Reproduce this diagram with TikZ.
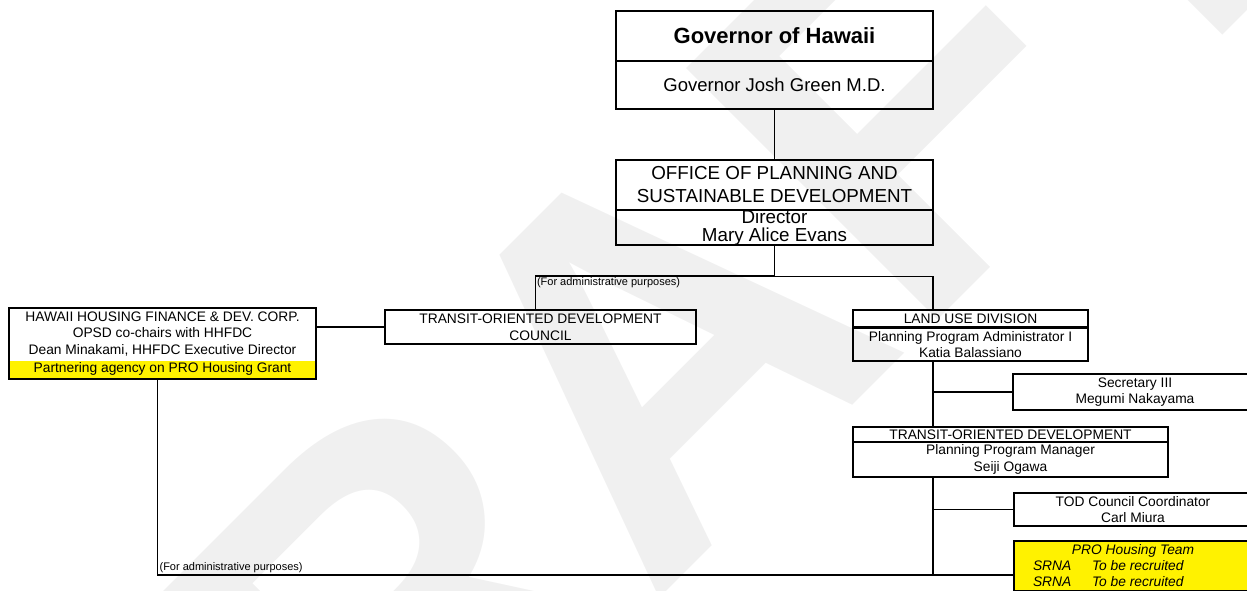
\documentclass[tikz,border=0pt]{standalone}
\usepackage{fontspec}
\setmainfont{Liberation Sans}
\usetikzlibrary{positioning,fit}
\tikzset{
  watermark/.style={text=gray!12, inner sep=0pt, font=\fontsize{517}{517}\selectfont\bfseries},
  orgcell/.style={draw, line width=1.8pt, inner sep=0pt, align=center, font=\fontsize{13.8}{16.7}\selectfont},
  bigcell/.style={orgcell, minimum width=317, font=\fontsize{18.8}{23}\selectfont},
  plaincell/.style={orgcell, draw=none},
  orgline/.style={line width=1.8pt},
  thinline/.style={line width=1pt},
  adminnote/.style={inner sep=1.5pt, font=\fontsize{11}{13}\selectfont}
}

\begin{document}
\begin{tikzpicture}[x=1pt,y=-1pt]
  \useasboundingbox (0,0) rectangle (1247,590);
  \clip (0,0) rectangle (1247,590);
  % faint stamp behind everything
  \node[watermark, rotate=45, anchor=base west] (draft) at (122,1136) {DRAFT};

  % governor and office
  \node[bigcell, minimum height=50, font=\fontsize{22}{26}\selectfont\bfseries] (govhead) at (774.5,36) {Governor of Hawaii};
  \node[bigcell, minimum height=48, font=\fontsize{18.5}{22}\selectfont] (govname) at (774.5,85) {Governor Josh Green M.D.};
  \node[bigcell, minimum height=50] (opsdhead) at (774.5,185) {OFFICE OF PLANNING AND\\SUSTAINABLE DEVELOPMENT};
  \node[bigcell, minimum height=33, font=\fontsize{18.8}{18}\selectfont] (opsdname) at (774.5,227.5) {Director\\Mary Alice Evans};

  % left side
  \node[plaincell, minimum width=305, minimum height=50] (hhfdc) at (162.5,334) {HAWAII HOUSING FINANCE \& DEV. CORP.\\OPSD co-chairs with HHFDC\\Dean Minakami, HHFDC Executive Director};
  \node[plaincell, fill=yellow, minimum width=305, minimum height=17, below=0pt of hhfdc] (grant) {Partnering agency on PRO Housing Grant};
  \node[draw, line width=1.8pt, inner sep=0pt, fit=(hhfdc)(grant)] (hhfdcbox) {};
  \node[orgcell, minimum width=311, minimum height=34] (todcouncil) at (540.5,327) {TRANSIT-ORIENTED DEVELOPMENT\\COUNCIL};

  % land use division
  \node[orgcell, minimum width=235, minimum height=17] (ludhead) at (970.5,318.5) {LAND USE DIVISION};
  \node[orgcell, minimum width=235, minimum height=33] (ludname) at (970.5,344.5) {Planning Program Administrator I\\Katia Balassiano};
  \node[orgcell, minimum width=244, minimum height=36] (secretary) at (1135,392) {Secretary III\\Megumi Nakayama};
  \node[orgcell, minimum width=315, minimum height=15] (todhead) at (1010.5,434.5) {TRANSIT-ORIENTED DEVELOPMENT};
  \node[orgcell, minimum width=315, minimum height=35] (todname) at (1010.5,459.5) {Planning Program Manager\\Seiji Ogawa};
  \node[orgcell, minimum width=238, minimum height=33] (coordinator) at (1133,509.5) {TOD Council Coordinator\\Carl Miura};
  \node[orgcell, fill=yellow, minimum width=238, minimum height=50, font=\fontsize{13.8}{16}\selectfont\itshape] (prohousing) at (1133,566)
    {PRO Housing Team\\\makebox[200pt][l]{\makebox[59pt][l]{SRNA}To be recruited}\\\makebox[200pt][l]{\makebox[59pt][l]{SRNA}To be recruited}};

  % junction points
  \coordinate (adminsplit) at (774.5,276);
  \coordinate (admincorner) at (535,276);
  \coordinate (spine) at (933,276);
  \coordinate (adminfoot) at (157,575);

  \draw[thinline] (govname) -- (opsdhead);
  \draw[line width=1.3pt] (opsdname) -- (adminsplit);
  \draw[orgline] (adminsplit) -- (admincorner);
  \draw[thinline] (admincorner) -- node[pos=0, anchor=north west, adminnote] {(For administrative purposes)} (admincorner |- todcouncil.north);
  \draw[thinline] (adminsplit) -- (spine);
  \draw[line width=1.4pt] (spine) -- (spine |- ludhead.north);
  \draw[orgline] (todcouncil.west) -- (todcouncil.west -| hhfdcbox.east);
  \draw[orgline] (ludname.south -| spine) -- (todhead.north -| spine);
  \draw[orgline] (secretary.west) -- (secretary.west -| spine);
  \draw[orgline] (todname.south -| spine) -- (adminfoot -| spine);
  \draw[orgline] (coordinator.west) -- (coordinator.west -| spine);
  \draw[thinline] (hhfdcbox.south -| adminfoot) -- (adminfoot);
  \draw[line width=2.2pt] (adminfoot) -- node[pos=0, anchor=south west, adminnote] {(For administrative purposes)} (adminfoot -| prohousing.west);
\end{tikzpicture}
\end{document}
